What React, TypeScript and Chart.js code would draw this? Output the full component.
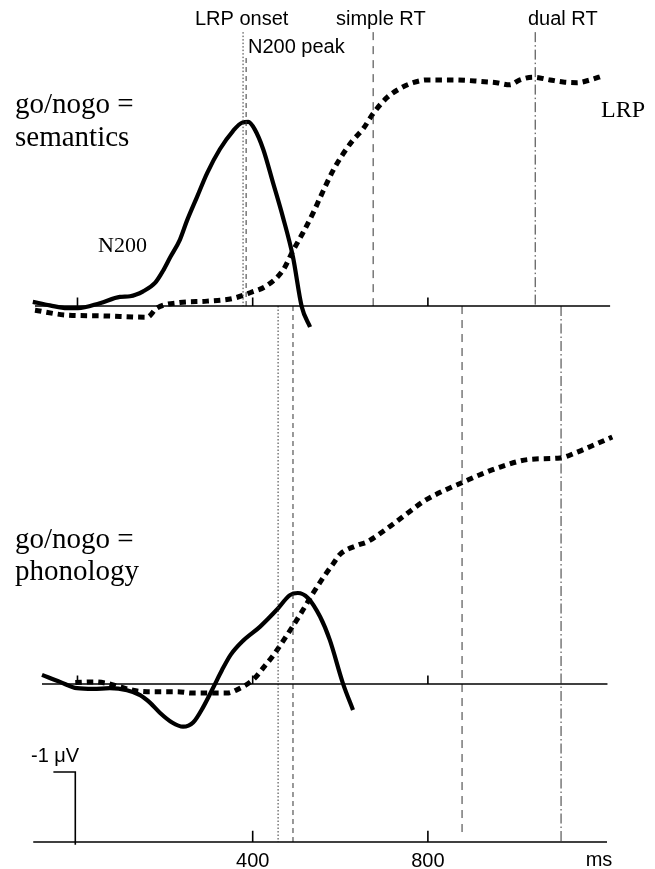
import React, { useEffect, useRef } from "react";
import { Chart, registerables } from "chart.js";

Chart.register(...registerables);

// ---- data (time in ms, amplitude in µV, negativity plotted upward) ----
const semN200Ms = [-102, -63, -24, 1, 51, 97, 120, 150, 177, 195, 212, 234, 250, 273, 296, 325, 355, 376, 390, 405, 424, 446, 469, 492, 512, 531];
const semN200Uv = [0.06, 0.01, -0.03, -0.03, 0.04, 0.13, 0.14, 0.21, 0.33, 0.5, 0.7, 0.95, 1.22, 1.56, 1.9, 2.24, 2.5, 2.62, 2.63, 2.52, 2.24, 1.77, 1.27, 0.7, -0.01, -0.3];

const semLrpMs = [-97, -24, 51, 159, 181, 234, 296, 356, 394, 432, 469, 492, 515, 538, 554, 583, 606, 629, 652, 675, 707, 737, 766, 798, 857, 919, 957, 987, 1010, 1040, 1079, 1109, 1140, 1170, 1200];
const semLrpUv = [-0.06, -0.13, -0.14, -0.16, -0.03, 0.05, 0.07, 0.11, 0.19, 0.29, 0.51, 0.79, 1.05, 1.33, 1.55, 1.93, 2.17, 2.37, 2.53, 2.75, 2.98, 3.11, 3.19, 3.23, 3.23, 3.21, 3.19, 3.16, 3.23, 3.27, 3.23, 3.2, 3.19, 3.23, 3.29];

const phonN200Ms = [-81, -40, -1, 36, 74, 113, 143, 166, 188, 216, 241, 264, 287, 310, 330, 350, 375, 417, 455, 485, 503, 526, 554, 576, 606, 629];
const phonN200Uv = [0.13, 0.03, -0.06, -0.07, -0.06, -0.09, -0.16, -0.27, -0.41, -0.55, -0.61, -0.55, -0.33, -0.05, 0.2, 0.42, 0.6, 0.82, 1.06, 1.27, 1.3, 1.23, 0.96, 0.63, 0.01, -0.37];

const phonLrpMs = [-5, 36, 67, 97, 127, 159, 188, 227, 264, 302, 341, 371, 401, 424, 447, 470, 492, 515, 538, 561, 584, 599, 638, 661, 702, 747, 793, 839, 879, 919, 965, 1033, 1102, 1136, 1170, 1221];
const phonLrpUv = [0.02, 0.03, 0.01, -0.04, -0.09, -0.11, -0.11, -0.11, -0.13, -0.13, -0.13, -0.06, 0.06, 0.23, 0.41, 0.62, 0.83, 1.06, 1.3, 1.52, 1.72, 1.85, 1.98, 2.03, 2.2, 2.41, 2.62, 2.77, 2.88, 2.99, 3.1, 3.21, 3.23, 3.3, 3.39, 3.53];

// event markers: LRP onset, N200 peak, simple RT, dual RT
const markerLabels = ["LRP onset", "N200 peak", "simple RT", "dual RT"];
const semMarkersMs = [378, 385, 675, 1045];
const phonMarkersMs = [458, 492, 878, 1104];

const axisTicksMs = [0, 400, 800];
const bottomTickLabels = ["400", "800"];
const unitLabel = "ms";
const scaleBarUv = 1;

// ---- layout constants (display offsets in µV units) ----
const SEM_BASE = 7.657;
const PHON_BASE = 2.257;
const AXIS_BASE = 0;
const X_MIN = -176.9;
const X_MAX = 1318.5;
const Y_MIN = -0.386;
const Y_MAX = 12.029;

const pts = (xs: number[], ys: number[], off: number) => xs.map((x, i) => ({ x, y: ys[i] + off }));

export default function App() {
  const ref = useRef<HTMLCanvasElement | null>(null);

  useEffect(() => {
    const canvas = ref.current;
    if (!canvas) return;

    const black = "#000";
    const grey = "#333";
    const curve = (data: any[], dashed: boolean) => ({
      data,
      borderColor: black,
      borderWidth: dashed ? 5 : 4.2,
      borderDash: dashed ? [6.5, 5] : [],
      borderCapStyle: "butt",
      cubicInterpolationMode: "monotone",
      pointRadius: 0,
      fill: false,
      clip: false,
    });
    const plain = (data: any[], width: number, dash: number[] = [], color = black) => ({
      data,
      borderColor: color,
      borderWidth: width,
      borderDash: dash,
      tension: 0,
      pointRadius: 0,
      fill: false,
      spanGaps: false,
      clip: false,
    });

    const tickSeg = (base: number, ticks: number[], len: number) => {
      const out: any[] = [];
      ticks.forEach((t) => {
        out.push({ x: t, y: base }, { x: t, y: base + len }, { x: t, y: null });
      });
      return out;
    };

    const markerDash = [[1.5, 2], [5, 4], [8, 6], [10, 3, 1.5, 3]];
    const markerTop = [11.57, 11.2, 11.57, 11.57];

    const datasets: any[] = [
      // axes
      plain([{ x: -97, y: SEM_BASE }, { x: 1216, y: SEM_BASE }], 1.6),
      plain([{ x: -81, y: PHON_BASE }, { x: 1210, y: PHON_BASE }], 1.6),
      plain([{ x: -101, y: AXIS_BASE }, { x: 1209, y: AXIS_BASE }], 1.6),
      plain(tickSeg(SEM_BASE, axisTicksMs, 0.12), 1.6),
      plain(tickSeg(PHON_BASE, axisTicksMs, 0.12), 1.6),
      plain(tickSeg(AXIS_BASE, axisTicksMs.slice(1), 0.16), 1.6),
      // scale bar
      plain([{ x: -55, y: AXIS_BASE + scaleBarUv }, { x: -5, y: AXIS_BASE + scaleBarUv }, { x: -5, y: AXIS_BASE - 0.04 }], 1.6),
    ];
    semMarkersMs.forEach((m, i) => {
      datasets.push(plain([{ x: m, y: markerTop[i] }, { x: m, y: SEM_BASE }], 1, markerDash[i], grey));
    });
    phonMarkersMs.forEach((m, i) => {
      datasets.push(plain([{ x: m, y: SEM_BASE }, { x: m, y: i === 2 ? 0.1 : AXIS_BASE }], 1, markerDash[i], grey));
    });
    datasets.push(curve(pts(semN200Ms, semN200Uv, SEM_BASE), false));
    datasets.push(curve(pts(semLrpMs, semLrpUv, SEM_BASE), true));
    datasets.push(curve(pts(phonN200Ms, phonN200Uv, PHON_BASE), false));
    datasets.push(curve(pts(phonLrpMs, phonLrpUv, PHON_BASE), true));

    const textPlugin = {
      id: "texts",
      afterDatasetsDraw(chart: any) {
        const ctx = chart.ctx;
        const xs = chart.scales.x;
        const ys = chart.scales.y;
        ctx.save();
        ctx.fillStyle = black;
        ctx.textBaseline = "alphabetic";
        ctx.textAlign = "left";
        ctx.font = '29px "Liberation Serif", serif';
        ctx.fillText("go/nogo =", 15, 113);
        ctx.fillText("semantics", 15, 146);
        ctx.fillText("go/nogo =", 15, 548);
        ctx.fillText("phonology", 15, 580);
        ctx.font = '22px "Liberation Serif", serif';
        ctx.fillText("N200", 98, 252);
        ctx.font = '24px "Liberation Serif", serif';
        ctx.fillText("LRP", 601, 117);

        ctx.font = '20px "Liberation Sans", Arial, sans-serif';
        const labelLeft = [195, 248, 336, 528];
        const labelBase = [25, 53, 25, 25];
        markerLabels.forEach((l, i) => ctx.fillText(l, labelLeft[i], labelBase[i]));

        ctx.textAlign = "center";
        bottomTickLabels.forEach((l, i) => {
          ctx.fillText(l, xs.getPixelForValue(axisTicksMs[i + 1]), 867);
        });
        ctx.fillText(unitLabel, 599, 866);
        ctx.textAlign = "left";
        ctx.fillText("-1 \u03BCV", 31, ys.getPixelForValue(AXIS_BASE + scaleBarUv) - 10);
        ctx.restore();
      },
    };

    const chart = new Chart(canvas, {
      type: "line",
      data: { datasets },
      options: {
        animation: false,
        responsive: false,
        maintainAspectRatio: false,
        devicePixelRatio: 1,
        events: [],
        layout: { padding: 0 },
        plugins: { legend: { display: false }, tooltip: { enabled: false } },
        scales: {
          x: { type: "linear", min: X_MIN, max: X_MAX, display: false },
          y: { type: "linear", min: Y_MIN, max: Y_MAX, display: false },
        },
      },
      plugins: [textPlugin],
    } as any);

    return () => chart.destroy();
  }, []);

  return (
    <div style={{ position: "fixed", left: 0, top: 0, width: 655, height: 869, background: "#fff" }}>
      <canvas ref={ref} width={655} height={869} style={{ display: "block", width: 655, height: 869 }} />
    </div>
  );
}
